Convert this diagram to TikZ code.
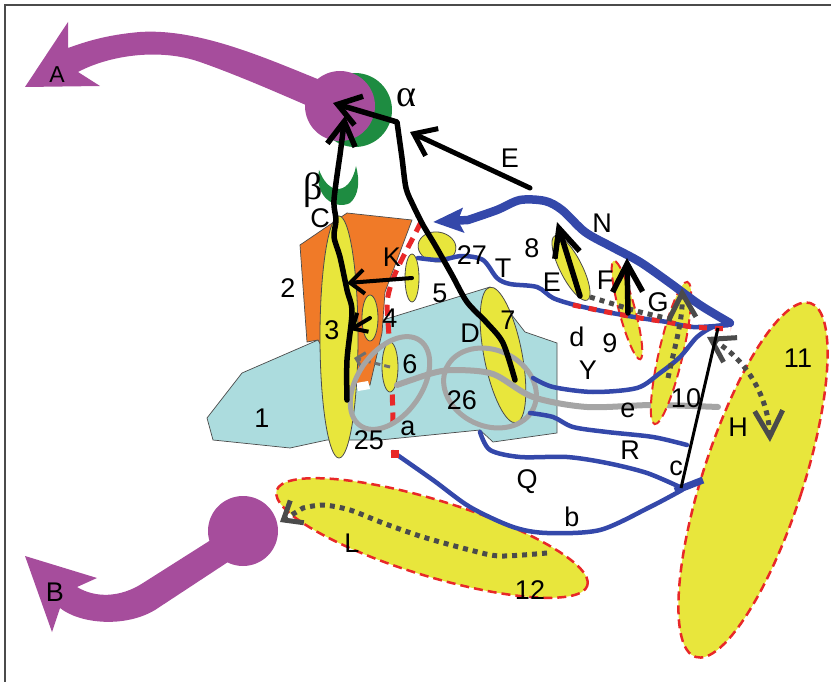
\documentclass[tikz,border=0pt]{standalone}
\usepackage{fontspec}
\setmainfont{Liberation Sans}
\newfontfamily\grk{Liberation Serif}
\usetikzlibrary{arrows.meta,shapes.geometric}
\definecolor{purp}{RGB}{166,77,156}
\definecolor{grn}{RGB}{30,140,65}
\definecolor{yel}{RGB}{232,230,60}
\definecolor{cyn}{RGB}{172,220,222}
\definecolor{org}{RGB}{240,122,40}
\definecolor{blu}{RGB}{52,72,170}
\definecolor{rd}{RGB}{232,40,40}
\definecolor{dg}{RGB}{75,75,75}
\definecolor{lg}{RGB}{165,165,165}
\begin{document}
\begin{tikzpicture}[x=1pt,y=-1pt,
  lab/.style={font=\fontsize{27}{27}\selectfont, inner sep=0},
  glab/.style={font=\grk\fontsize{38}{38}\selectfont, inner sep=0},
  yell/.style={ellipse, fill=yel, draw=dg, line width=0.8, inner sep=0},
  yelr/.style={ellipse, fill=yel, draw=rd, line width=2.5, dash pattern=on 9pt off 5pt, inner sep=0},
  blk/.style={line width=5.5, black, line cap=round, line join=round},
  bl/.style={blu, line width=4.5, line cap=round, line join=round},
  dots/.style={dg, line width=5, dash pattern=on 5pt off 5pt},
  loop/.style={ellipse, draw=lg, line width=5, inner sep=0}]
\useasboundingbox (0,0) rectangle (831,682);
% frame
\draw[dg, line width=2] (5,682) -- (5,5) -- (831,5);

% outgoing purple arrow A
\fill[purp] (68,22) -- (25,87) -- (100,86) -- (78,72) .. controls (110,55) and (160,48) .. (200,62)
  .. controls (240,76) and (285,96) .. (322,112) -- (325,82) .. controls (270,60) and (200,28) .. (140,32)
  .. controls (105,35) and (85,42) .. (68,48) -- cycle;
\node[circle, fill=grn, minimum size=74, inner sep=0] (gal) at (355,110) {};
\node[circle, fill=purp, minimum size=70, inner sep=0] (pal) at (340,106) {};

% outgoing purple arrow B
\fill[purp] (97,578) -- (25,556) -- (52,632) -- (60,608) .. controls (80,624) and (125,628) .. (155,610)
  -- (228,562) -- (214,538) -- (143,583) .. controls (120,598) and (95,598) .. (77,587) -- cycle;
\node[circle, fill=purp, minimum size=70, inner sep=0] (pb) at (243,531) {};

% beta crescent
\fill[grn] (319,170) .. controls (314,198) and (336,210) .. (350,203) .. controls (359,195) and (360,181) .. (356,166)
  .. controls (353,182) and (345,190) .. (336,189) .. controls (328,187) and (323,180) .. cycle;

% large dashed regions
\node[yelr, minimum width=100, minimum height=372, rotate=-18] (e11) at (753,480) {};
\node[yelr, minimum width=325, minimum height=76, rotate=-17] (e12) at (432,538) {};

% dotted path L
\draw[dots, -{Straight Barb[length=16pt,width=26pt]}] plot[smooth] coordinates
  {(547,553) (500,556) (470,550) (423,537) (383,523) (350,510) (323,505) (303,508)} -- (280,522);

% region 1 and region 2
\filldraw[fill=cyn, draw=dg, line width=0.7] (207,418) -- (242,373) -- (318,340) -- (490,287) -- (525,332)
  -- (557,343) -- (557,433) -- (493,442) -- (480,430) -- (380,440) -- (327,440) -- (290,448) -- (213,440) -- cycle;
\filldraw[fill=org, draw=dg, line width=0.7] (300,245) -- (347,213) -- (412,220) -- (385,292) -- (382,333)
  -- (370,385) -- (345,388) -- (318,340) -- (307,342) -- cycle;
\fill[white] (356,383) -- (368,381) -- (370,389) -- (358,391) -- cycle;

% nuclei
\node[yell, minimum width=38, minimum height=242] (e3) at (339,337) {};
\node[yell, minimum width=16, minimum height=46] (e4) at (370,318) {};
\node[yell, minimum width=14, minimum height=48] (ek) at (412,278) {};
\node[yell, minimum width=38, minimum height=30, rotate=-8] (e27) at (437,247) {};

% red dashed tract a
\draw[rd, line width=5, dash pattern=on 11pt off 7pt] (421,222) .. controls (405,255) and (388,280) .. (387,305)
  .. controls (388,330) and (392,360) .. (393,425);

\node[yell, minimum width=16, minimum height=50] (e6) at (390,367) {};
\node[yell, minimum width=38, minimum height=138, rotate=11] (e7) at (503,355) {};

% small grey dashed arrow from 6
\draw[dg!80, line width=3, dash pattern=on 6pt off 4pt, -{Straight Barb[length=8pt,width=16pt]}] (e6.center) -- (354,358);

% grey loops and tract e
\node[loop, minimum width=104, minimum height=64, rotate=55] (lp25) at (390,383) {};
\node[loop, minimum width=96, minimum height=76, rotate=-25] (lp26) at (490,388) {};
\draw[lg, line width=6, line cap=round] plot[smooth] coordinates
  {(397,385) (433,373) (455,370) (493,374) (533,397) (587,407) (653,405) (718,407)};

% nuclei 8, 9, 10
\node[yell, minimum width=22, minimum height=72, rotate=27] (e8) at (571,268) {};
\node[yelr, line width=2, minimum width=16, minimum height=102, rotate=15] (e9) at (627,310) {};
\node[yelr, line width=2, minimum width=24, minimum height=146, rotate=-13] (e10) at (671,353) {};

% blue tracts
\draw[bl] plot[smooth] coordinates {(418,258) (440,260) (462,256) (483,260) (497,278) (510,284) (537,287)
  (553,298) (575,305) (607,312) (640,318) (667,322) (693,327) (728,325)};
\draw[bl] plot[smooth] coordinates {(533,378) (553,387) (593,392) (637,388) (660,373) (680,357) (697,337) (713,327) (728,325)};
\draw[bl] plot[smooth] coordinates {(530,413) (553,417) (573,427) (607,432) (653,437) (687,445)};
\draw[bl] plot[smooth] coordinates {(480,432) (490,450) (520,457) (567,457) (607,463) (647,473) (682,488)};
\draw[bl] plot[smooth] coordinates {(393,452) (433,480) (470,507) (513,527) (547,533) (600,530) (650,507) (682,490)};
\fill[rd] (391,450) rectangle (399,458);
\draw[blu, line width=8.5, line cap=round, -{Stealth[length=30pt,width=24pt,inset=5pt]}] plot[smooth] coordinates
  {(730,323) (700,305) (670,283) (640,262) (612,247) (585,232) (562,210) (545,201) (520,200) (497,210) (468,220)} -- (433,222);
\draw[blu, line width=7] (675,491) -- (703,480);

% red dashes along d
\draw[rd, line width=5, dash pattern=on 8pt off 8pt] plot[smooth] coordinates
  {(573,305) (607,312) (640,318) (667,322) (693,327) (731,329)};

% grey dotted projections
\draw[dots] plot[smooth] coordinates {(590,297) (610,303) (640,312) (675,320)};
\draw[dots, -{Straight Barb[length=24pt,width=26pt]}] (668,378) .. controls (675,345) and (683,320) .. (682,288);
\draw[dots, {Straight Barb[length=22pt,width=28pt]}-{Straight Barb[length=26pt,width=28pt]}]
  (707,337) .. controls (745,358) and (768,395) .. (770,442);

% black projections
\draw[blk, -{Straight Barb[length=24pt,width=28pt]}] plot[smooth] coordinates
  {(347,400) (347,360) (352,312) (347,290) (340,257) (334,237) (336,220) (334,200) (340,155)} -- (345,116);
\draw[blk, -{Straight Barb[length=22pt,width=30pt]}] plot[smooth] coordinates
  {(515,380) (503,343) (487,323) (467,302) (452,275) (435,245) (423,225) (413,205) (406,188) (402,158) (397,122)} -- (333,103);
\draw[blk, line width=5, -{Straight Barb[length=20pt,width=30pt]}] (530,188) -- (410,132);
\draw[blk, line width=4, -{Straight Barb[length=14pt,width=24pt]}] (ek.center) -- (347,283);
\draw[blk, line width=4, -{Straight Barb[length=12pt,width=22pt]}] (e4.center) -- (350,330);
\draw[blk, -{Straight Barb[length=28pt,width=26pt]}] (580,296) -- (557,222);
\draw[blk, -{Straight Barb[length=28pt,width=30pt]}] (628,313) -- (627,258);
\draw[black, line width=3] (681,488) -- (718,328);

% labels
\node[lab, font=\fontsize{23}{23}\selectfont] (tA) at (57,75) {A};
\node[lab] (tB) at (55,592) {B};
\node[glab] (talpha) at (406,98) {α};
\node[glab] (tbeta) at (313,190) {β};
\node[lab] (tC) at (320,218) {C};
\node[lab] (tE1) at (510,158) {E};
\node[lab] (tN) at (602,223) {N};
\node[lab] (t8) at (532,248) {8};
\node[lab] (t27) at (472,255) {27};
\node[lab] (tK) at (392,257) {K};
\node[lab] (tT) at (503,268) {T};
\node[lab] (tE2) at (552,282) {E};
\node[lab] (tF) at (605,280) {F};
\node[lab] (tG) at (658,302) {G};
\node[lab] (t2) at (288,288) {2};
\node[lab] (t5) at (440,293) {5};
\node[lab] (t4) at (390,318) {4};
\node[lab] (t3) at (332,330) {3};
\node[lab] (t7) at (508,320) {7};
\node[lab] (tD) at (470,333) {D};
\node[lab] (td) at (577,337) {d};
\node[lab] (t9) at (610,343) {9};
\node[lab] (t6) at (410,364) {6};
\node[lab] (tY) at (588,370) {Y};
\node[lab] (t10) at (686,398) {10};
\node[lab] (t11) at (798,358) {11};
\node[lab] (t1) at (262,418) {1};
\node[lab] (t26) at (462,400) {26};
\node[lab] (te) at (628,410) {e};
\node[lab] (ta) at (408,428) {a};
\node[lab] (tH) at (738,427) {H};
\node[lab] (t25) at (369,440) {25};
\node[lab] (tR) at (630,450) {R};
\node[lab] (tc) at (676,468) {c};
\node[lab] (tQ) at (527,482) {Q};
\node[lab] (tb) at (572,517) {b};
\node[lab] (tL) at (352,543) {L};
\node[lab] (t12) at (530,590) {12};
\end{tikzpicture}
\end{document}
